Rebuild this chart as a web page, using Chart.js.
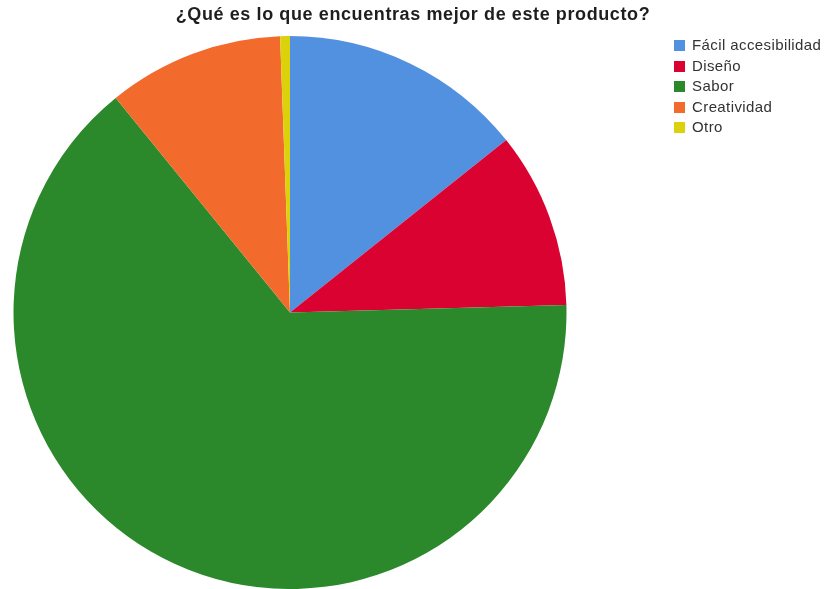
<!DOCTYPE html>
<html lang="es">
<head>
<meta charset="utf-8">
<title>¿Qué es lo que encuentras mejor de este producto?</title>
<script src="https://cdn.jsdelivr.net/npm/chart.js@4/dist/chart.umd.min.js"></script>
<style>
  html, body { margin: 0; padding: 0; background: #ffffff; overflow: hidden; }
  #wrap { width: 825px; height: 589px; }
</style>
</head>
<body>
<div id="wrap"><canvas id="pie" width="825" height="589"></canvas></div>
<script>
// Survey answers: what people like best about the product
const chartTitle = '¿Qué es lo que encuentras mejor de este producto?';
const categories = ['Fácil accesibilidad', 'Diseño', 'Sabor', 'Creatividad', 'Otro'];
const responses = [25, 18, 113, 18, 1];
const sliceColors = ['#5291e0', '#da0231', '#2b892b', '#f26a2c', '#dcd20c'];

// Title and side legend, drawn on the chart canvas
const headerAndLegend = {
  id: 'headerAndLegend',
  afterDraw(chart) {
    const ctx = chart.ctx;
    ctx.save();
    ctx.textBaseline = 'middle';

    ctx.font = 'bold 18px "Liberation Sans", Arial, sans-serif';
    ctx.letterSpacing = '0.6px';
    ctx.fillStyle = '#1e1e1e';
    ctx.textAlign = 'center';
    ctx.fillText(chartTitle, 413, 15);

    ctx.font = '15px "Liberation Sans", Arial, sans-serif';
    ctx.letterSpacing = '0.4px';
    ctx.textAlign = 'left';
    const colors = chart.data.datasets[0].backgroundColor;
    chart.data.labels.forEach((label, i) => {
      const cy = 45.5 + i * 20.5;
      ctx.fillStyle = colors[i];
      ctx.fillRect(674, Math.round(cy - 5.5), 11, 11);
      ctx.fillStyle = '#333333';
      ctx.fillText(label, 692, cy + 0.5);
    });
    ctx.restore();
  }
};

new Chart(document.getElementById('pie'), {
  type: 'pie',
  data: {
    labels: categories,
    datasets: [{
      data: responses,
      backgroundColor: sliceColors,
      borderWidth: 0,
      hoverOffset: 0
    }]
  },
  options: {
    responsive: false,
    animation: false,
    devicePixelRatio: 1,
    layout: { padding: { top: 36, left: 12, right: 257, bottom: -3 } },
    plugins: {
      legend: { display: false },
      title: { display: false },
      tooltip: { enabled: false }
    }
  },
  plugins: [headerAndLegend]
});
</script>
</body>
</html>
